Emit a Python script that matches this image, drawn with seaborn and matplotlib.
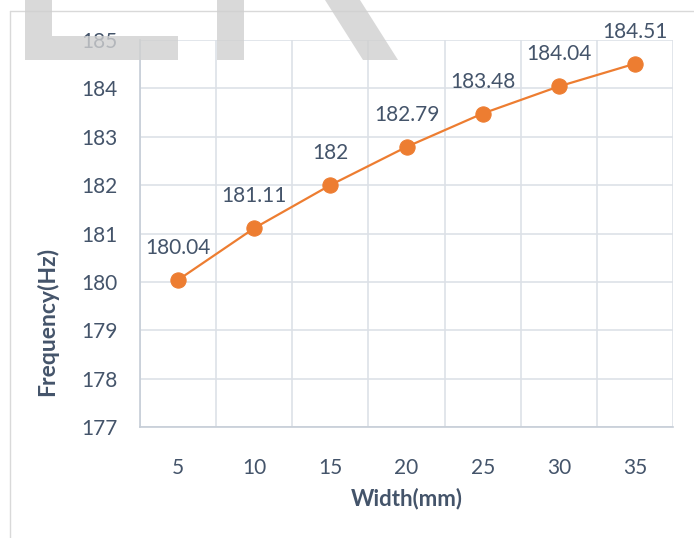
import matplotlib
matplotlib.use("Agg")
import matplotlib.pyplot as plt
from matplotlib.patches import Polygon
from matplotlib.lines import Line2D
import seaborn as sns
import pandas as pd

# Measured resonant frequency for each strip width
widths = ["5", "10", "15", "20", "25", "30", "35"]
frequency = [180.04, 181.11, 182.00, 182.79, 183.48, 184.04, 184.51]
y_ticks = [177, 178, 179, 180, 181, 182, 183, 184, 185]

sns.set_theme(style="white")
plt.rcParams["font.family"] = ["Lato", "DejaVu Sans"]

TEXT = "#44546A"
ORANGE = "#ED7D31"
GRID = "#dde1e7"
AXIS = "#c6cdd7"

df = pd.DataFrame({"Width": widths, "Frequency": frequency})

W, H = 694, 538
fig = plt.figure(figsize=(W / 100, H / 100), dpi=100)
fig.patch.set_facecolor("white")
ax = fig.add_axes([140 / W, 1 - 427 / H, (673 - 140) / W, (427 - 40) / H])

sns.lineplot(data=df, x="Width", y="Frequency", sort=False, ax=ax,
             color=ORANGE, linewidth=1.6, marker="o", markersize=11,
             markerfacecolor=ORANGE, markeredgecolor=ORANGE, zorder=4)

n = len(widths)
ax.set_xlim(-0.5, n - 0.5)
ax.set_ylim(y_ticks[0], y_ticks[-1])
ax.set_xticks(range(n))
ax.set_xticklabels(widths)
ax.set_xticks([i - 0.5 for i in range(n + 1)], minor=True)
ax.set_yticks(y_ticks)
ax.set_yticklabels([str(t) for t in y_ticks])

ax.grid(False)
ax.grid(axis="x", which="minor", color=GRID, linewidth=1.2)
ax.grid(axis="y", which="major", color=GRID, linewidth=1.2)
ax.set_axisbelow(True)

for side in ("top", "right"):
    ax.spines[side].set_visible(False)
for side in ("left", "bottom"):
    ax.spines[side].set_color(AXIS)
    ax.spines[side].set_linewidth(1.2)

ax.tick_params(axis="both", which="both", length=0, labelsize=15, labelcolor=TEXT)
ax.tick_params(axis="x", pad=22)
ax.tick_params(axis="y", pad=16)

ax.set_xlabel("Width(mm)", fontsize=16, fontweight="bold", color=TEXT, labelpad=7)
ax.set_ylabel("")
fig.text(47 / W, 1 - 321 / H, "Frequency(Hz)", rotation=90, ha="center", va="center",
         fontsize=16.5, fontweight="bold", color=TEXT)

# Value labels above each point
for i, v in enumerate(frequency):
    ax.annotate(f"{v:g}", (i, v), xytext=(0, 23), textcoords="offset points",
                ha="center", va="center", fontsize=15, color=TEXT, zorder=5)

# Outer chart frame (left and top edges)
fig.add_artist(Line2D([10 / W, 10 / W], [0, 1 - 11 / H], color="#d9d9d9", linewidth=1.0))
fig.add_artist(Line2D([10 / W, 1], [1 - 11 / H, 1 - 11 / H], color="#d9d9d9", linewidth=1.0))

# Gray lettering across the top
def px(points):
    return [(x / W, 1 - y / H) for x, y in points]

shapes = [
    px([(25, 0), (52, 0), (52, 36), (178, 36), (178, 60), (25, 60)]),
    px([(217, 0), (244, 0), (244, 60), (217, 60)]),
    px([(325, 0), (360, 0), (398, 60), (363, 60)]),
]
for pts in shapes:
    fig.add_artist(Polygon(pts, closed=True, facecolor="#d0d0d0", edgecolor="none",
                           alpha=0.8, zorder=10))

fig.savefig("out.png", dpi=100)
